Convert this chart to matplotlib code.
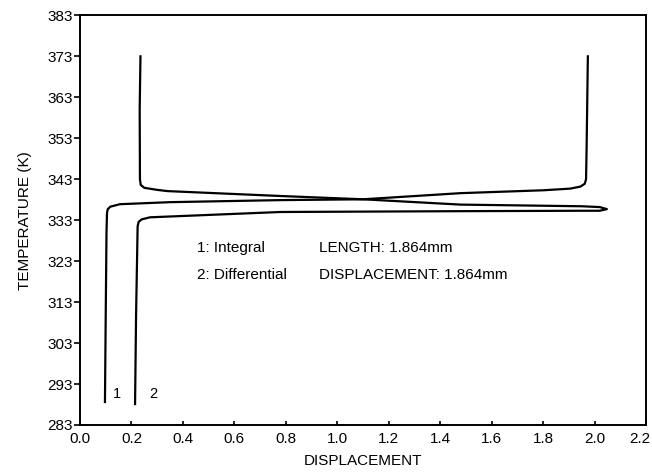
import matplotlib
matplotlib.use("Agg")
import matplotlib.pyplot as plt
import matplotlib.transforms as mtransforms
import numpy as np

plt.rcParams['font.family'] = ['Liberation Sans', 'DejaVu Sans']

# curve 1: integral displacement vs temperature
curve1_x = [0.097, 0.100, 0.103, 0.105, 0.108, 0.118, 0.155, 0.35, 0.78, 1.10,
            1.48, 1.80, 1.905, 1.945, 1.962, 1.967, 1.969, 1.974]
curve1_t = [288.6, 310.0, 330.0, 334.8, 335.7, 336.3, 336.9, 337.4, 337.9, 338.1,
            339.6, 340.3, 340.7, 341.2, 341.9, 343.0, 350.0, 373.0]

# curve 2: differential displacement vs temperature
curve2_x = [0.214, 0.218, 0.224, 0.228, 0.240, 0.272, 0.78, 1.48, 1.95, 2.02, 2.048,
            2.02, 1.95, 1.48, 1.10, 0.78, 0.34, 0.30, 0.250, 0.236, 0.233, 0.232, 0.235]
curve2_t = [288.1, 310.0, 331.5, 332.6, 333.2, 333.7, 335.0, 335.2, 335.3, 335.3, 335.7,
            336.2, 336.4, 336.8, 338.1, 338.9, 340.1, 340.4, 340.9, 341.6, 343.0, 360.0, 373.0]

curve_labels = ["1", "2"]
label_x = [0.145, 0.285]
label_t = [290.5, 290.5]

note_left = ["1: Integral", "2: Differential"]
note_right = ["LENGTH: 1.864mm", "DISPLACEMENT: 1.864mm"]
note_t = [326.3, 319.7]

x_ticks = np.arange(0.0, 2.21, 0.2)
y_ticks = np.arange(283, 384, 10)

fig = plt.figure(figsize=(6.52, 4.73), dpi=100)
ax = fig.add_axes([0.1227, 0.1015, 0.8681, 0.866])

ax.plot(curve1_x, curve1_t, color='black', lw=1.6, solid_joinstyle='round')
ax.plot(curve2_x, curve2_t, color='black', lw=1.6, solid_joinstyle='round')

for lab, lx, lt in zip(curve_labels, label_x, label_t):
    ax.text(lx, lt, lab, fontsize=10.5, ha='center', va='center')

for txt, tt in zip(note_left, note_t):
    ax.text(0.455, tt, txt, fontsize=11, ha='left', va='center')
for txt, tt in zip(note_right, note_t):
    ax.text(0.93, tt, txt, fontsize=11, ha='left', va='center')

ax.set_xlim(0.0, 2.2)
ax.set_ylim(283, 383)
ax.set_xticks(x_ticks)
ax.set_xticklabels([f"{v:.1f}" for v in x_ticks])
ax.set_yticks(y_ticks)
ax.tick_params(axis='x', direction='in', length=3, width=1.2, labelsize=11, pad=5)
ax.tick_params(axis='y', direction='out', length=4, width=1.2, labelsize=11, pad=1)
for s in ax.spines.values():
    s.set_linewidth(1.4)

# last x label sits a bit left so it stays inside the figure
last = ax.get_xticklabels()[-1]
last.set_transform(last.get_transform() +
                   mtransforms.ScaledTranslation(-6 / 100, 0, fig.dpi_scale_trans))

ax.set_xlabel("DISPLACEMENT", fontsize=11, labelpad=6)
ax.set_ylabel("TEMPERATURE (K)", fontsize=11, labelpad=11)

fig.savefig("out.png", dpi=100)
